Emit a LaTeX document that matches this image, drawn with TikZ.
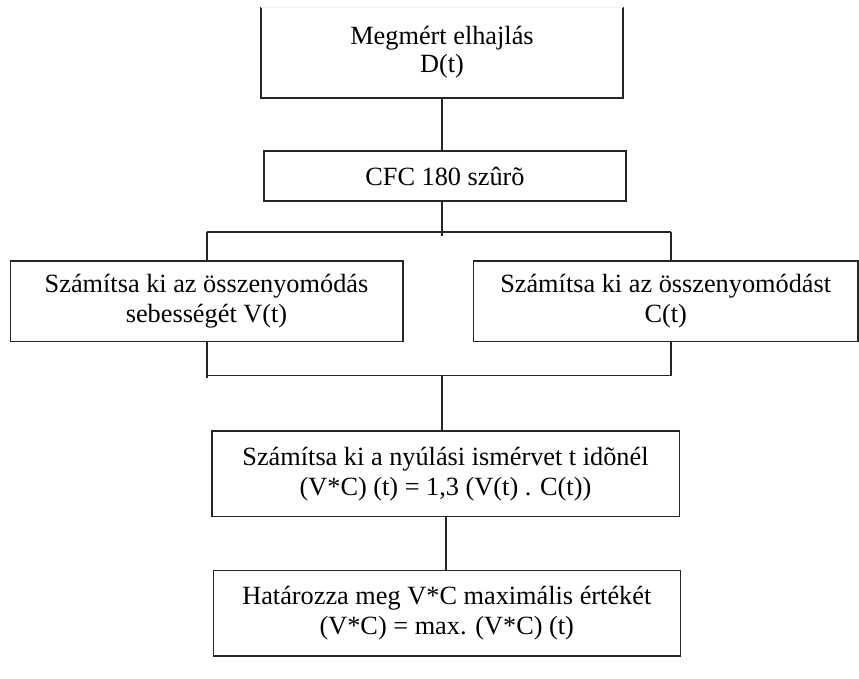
\documentclass[tikz,border=0pt]{standalone}
\usepackage{fontspec}
\setmainfont{Liberation Serif}
\begin{document}
\begin{tikzpicture}[x=1pt,y=-1pt,
  box/.style={draw=black!85, line width=1.6pt, inner sep=0pt, align=center,
    font=\fontsize{26.3}{30}\selectfont},
  conn/.style={draw=black!85, line width=1.6pt}]
\useasboundingbox (0,0) rectangle (859,678);
% boxes
\node[box, draw=none, minimum width=360pt, minimum height=89pt] (top) at (442,52.5) {\raisebox{3pt}{\shortstack{Megmért elhajlás\\[1pt]D(t)}}};
\draw[conn] (top.north west) -- (top.south west) -- (top.south east) -- (top.north east);
\draw[draw=black!6, line width=1pt] (top.north west) -- (top.north east);
\node[box, minimum width=362pt, minimum height=50pt] (cfc) at (445,176) {CFC 180 szûrõ};
\node[box, minimum width=392.4pt, minimum height=80.7pt] (left) at (206.5,301.3) {Számítsa ki az összenyomódás\\sebességét V(t)};
\node[box, minimum width=384.7pt, minimum height=80.7pt] (right) at (665.7,301.3) {Számítsa ki az összenyomódást\\C(t)};
\node[box, minimum width=467.6pt, minimum height=85.7pt] (calc) at (445.5,473.8) {Számítsa ki a nyúlási ismérvet t idõnél\\(V*C) (t) = 1,3 (V(t) . C(t))};
\node[box, minimum width=467pt, minimum height=85.4pt] (max) at (446.8,613) {Határozza meg V*C maximális értékét\\(V*C) = max. (V*C) (t)};
% junction coordinates
\coordinate (splitL) at (206.7,232);
\coordinate (splitR) at (671,232);
\coordinate (splitC) at (442,232);
\coordinate (splitE) at (442,236);
\coordinate (mergeL) at (206.7,375.5);
\coordinate (mergeR) at (671,375.5);
\coordinate (mergeC) at (442,375.5);
% connectors
\draw[conn] (top.south -| splitC) -- (cfc.north -| splitC);
\draw[conn] (cfc.south -| splitC) -- (splitE);
\draw[conn] (splitL) -- (splitR);
\draw[conn] (splitL) -- (left.north -| splitL);
\draw[conn] (splitR) -- (right.north -| splitR);
\draw[conn] (left.south -| mergeL) -- ([yshift=-2pt]mergeL);
\draw[conn] (right.south -| mergeR) -- (mergeR);
\draw[conn] (mergeL) -- (mergeR);
\draw[conn] (mergeC) -- (calc.north -| mergeC);
\draw[conn] (calc.south -| 445.7,0) -- (max.north -| 445.7,0);
\end{tikzpicture}
\end{document}
